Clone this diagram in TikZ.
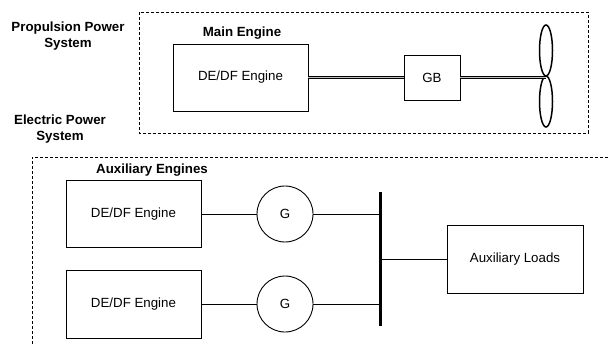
\documentclass[tikz,border=0pt]{standalone}
\usepackage{fontspec}
\setmainfont{Liberation Sans}
\usetikzlibrary{shapes.geometric}
\begin{document}
\begin{tikzpicture}[x=1pt,y=-1pt,
  txt/.style={font=\fontsize{13.3}{15.5}\selectfont, inner sep=0pt},
  btxt/.style={font=\bfseries\fontsize{13.3}{15.5}\selectfont, inner sep=0pt, align=center},
  blk/.style={draw, line width=0.9pt, inner sep=0pt, font=\fontsize{13.3}{15.5}\selectfont},
  gen/.style={draw, circle, line width=0.9pt, inner sep=0pt, minimum size=56pt, font=\fontsize{13.3}{15.5}\selectfont},
  grp/.style={line width=0.9pt, dash pattern=on 3pt off 2pt},
  shaft/.style={line width=0.8pt, double=black!25, double distance=1.6pt},
  wire/.style={line width=0.9pt},
  blade/.style={draw, ellipse, line width=1.5pt, minimum width=13pt, minimum height=51pt, inner sep=0pt}]
\useasboundingbox (0,0) rectangle (609,344);
% groups
\draw[grp] (139,12) rectangle (588,133);
\draw[grp] (32,344) -- (32,157) -- (612,157);
% labels
\node[btxt] (lprop) at (68,36) {Propulsion Power\\System};
\node[btxt] (lelec) at (60,129) {Electric Power\\System};
\node[btxt] (lmain) at (242,33) {Main Engine};
\node[btxt] (laux) at (152,170) {Auxiliary Engines};
% propulsion
\node[blk, minimum width=135pt, minimum height=67pt] (me) at (240.5,77.5) {DE/DF Engine};
\node[blk, minimum width=56pt, minimum height=45pt] (gb) at (432,77.5) {GB};
\node[blade] (b1) at (546,50.5) {};
\node[blade] (b2) at (546,101.5) {};
\coordinate (hub) at (546,77.5);
\draw[shaft] (me.east) -- (gb.west);
\draw[shaft] (gb.east) -- (hub);
% electric
\node[blk, minimum width=135pt, minimum height=67pt] (ae1) at (133.5,214) {DE/DF Engine};
\node[blk, minimum width=135pt, minimum height=68pt] (ae2) at (133.5,304) {DE/DF Engine};
\node[gen] (g1) at (285,214) {G};
\node[gen] (g2) at (285,304) {G};
\coordinate (bustop) at (380,192);
\coordinate (busbot) at (380,326);
\draw[line width=3pt] (bustop) -- (busbot);
\node[blk, minimum width=136pt, minimum height=68pt] (loads) at (515,259) {Auxiliary Loads};
\draw[wire] (ae1.east) -- (g1.west);
\draw[wire] (ae2.east) -- (g2.west);
\draw[wire] (g1.east) -- (g1.east -| bustop);
\draw[wire] (g2.east) -- (g2.east -| bustop);
\draw[wire] (loads.west) -- (loads.west -| bustop);
\end{tikzpicture}
\end{document}
